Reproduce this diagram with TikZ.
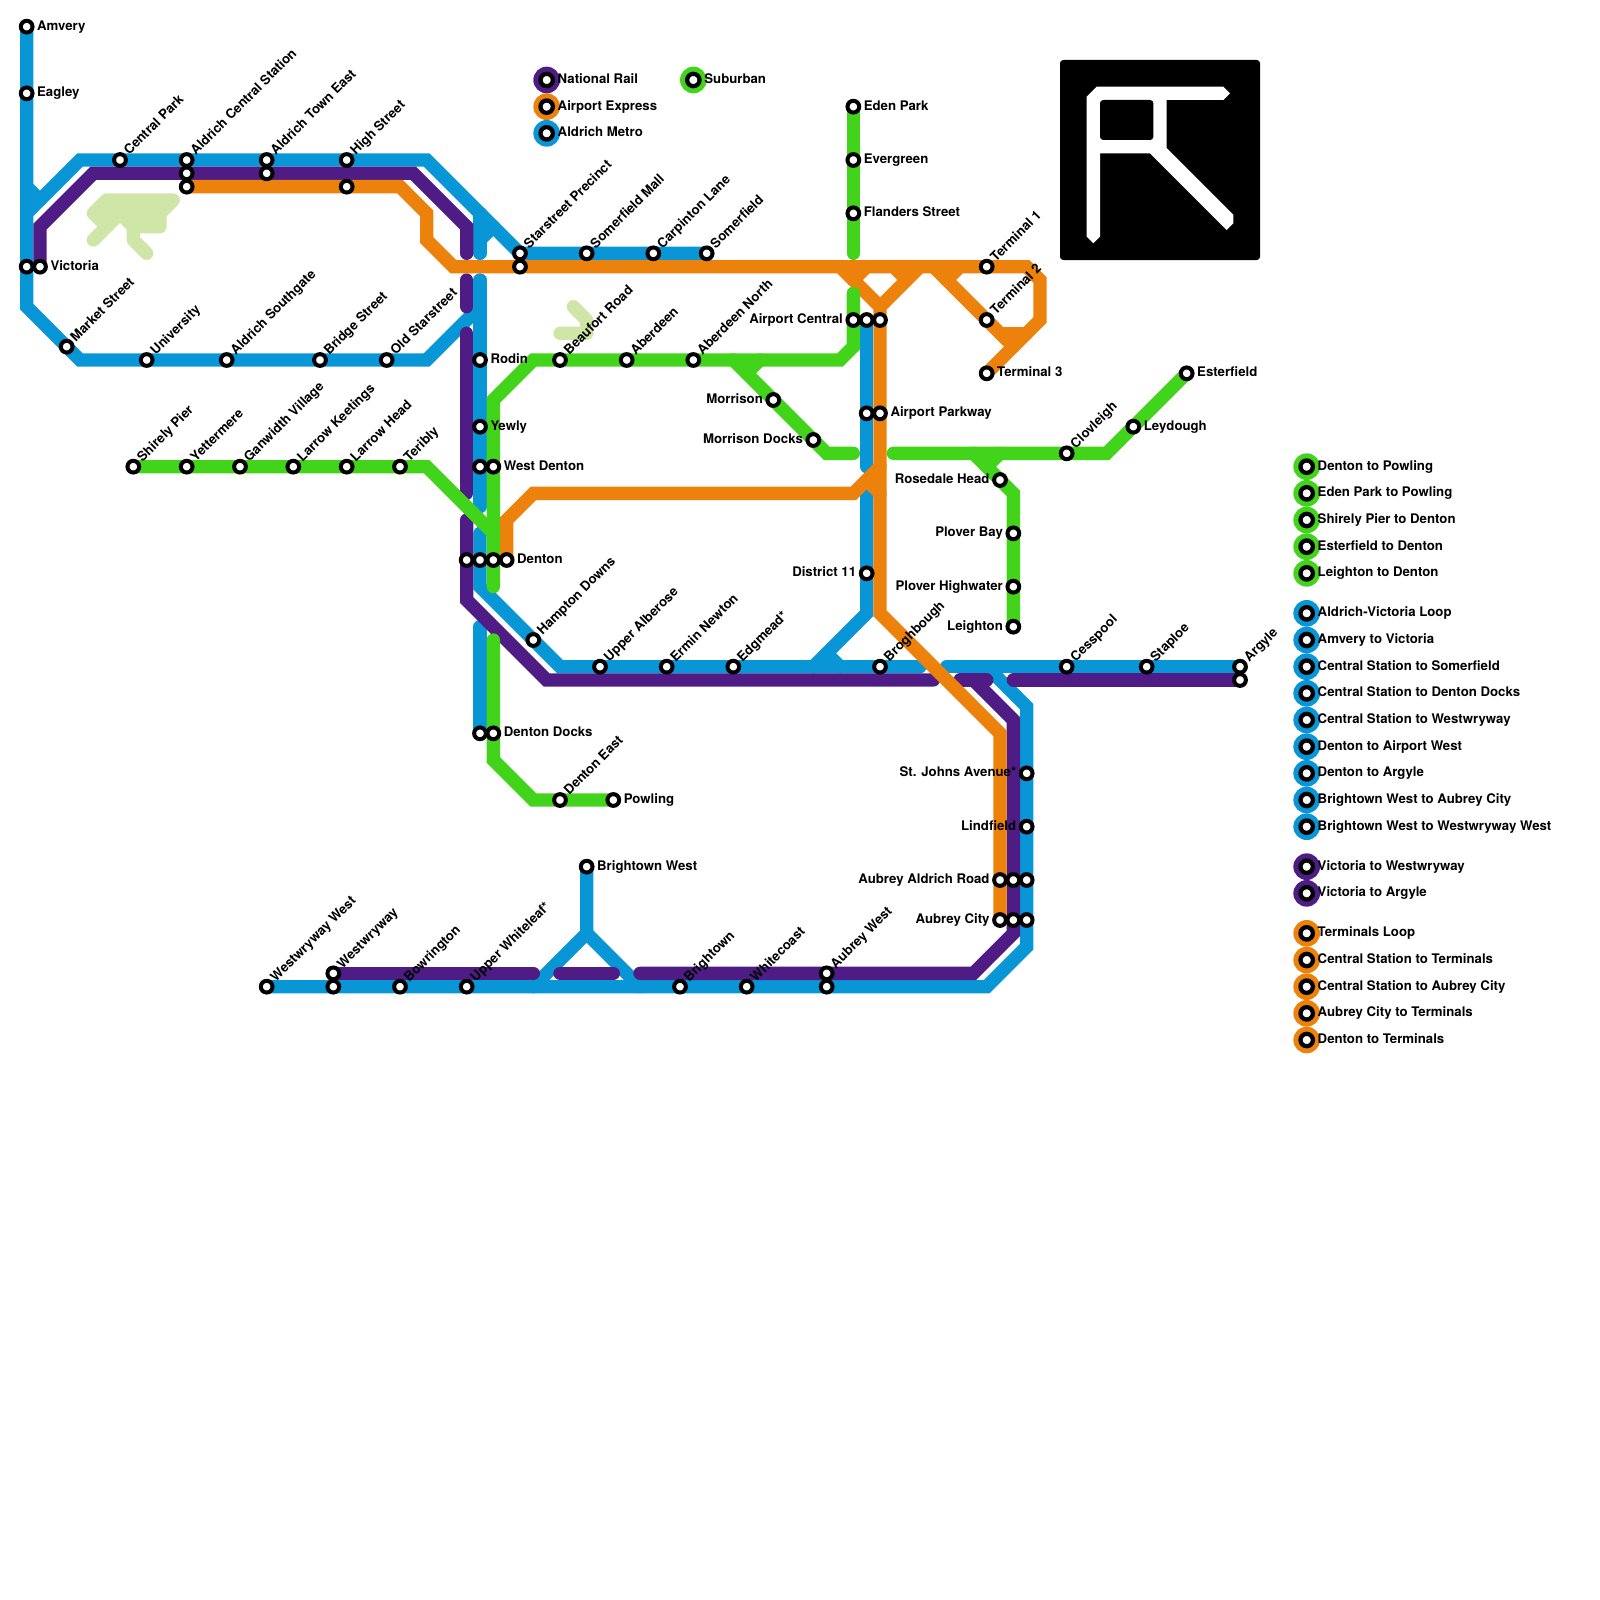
\documentclass[tikz,border=0pt]{standalone}
\usepackage{fontspec}
\setmainfont{TeX Gyre Heros}
\usepackage{xcolor}
\usetikzlibrary{backgrounds}

\definecolor{metroblue}{HTML}{0896D7}
\definecolor{railpurple}{HTML}{4F1B84}
\definecolor{airorange}{HTML}{EC820B}
\definecolor{subgreen}{HTML}{41D41A}
\definecolor{palegreen}{HTML}{D0E6A8}

\tikzset{
  stn/.style={circle, draw=black, fill=white, line width=0.075cm, inner sep=0pt, minimum size=0.22cm},
  bigstn/.style={circle, draw=black, fill=white, line width=0.08cm, inner sep=0pt, minimum size=0.2325cm},
  stntxt/.style={font=\fontsize{7.05}{9}\selectfont\bfseries, inner sep=0pt, text height=0.72em, text depth=0pt},
  txtr/.style={stntxt, anchor=west, xshift=0.19cm, yshift=0.058cm},
  txtl/.style={stntxt, anchor=east, xshift=-0.19cm, yshift=0.058cm},
  txtu/.style={stntxt, anchor=west, xshift=0.08cm, yshift=0.165cm, rotate=45},
  txtk/.style={stntxt, anchor=west, xshift=0.2cm, yshift=0.058cm},
  disc/.style={circle, inner sep=0pt, minimum size=0.5cm},
  bluel/.style={draw=metroblue, line width=0.25cm, line cap=round},
  purpl/.style={draw=railpurple, line width=0.25cm, line cap=round},
  orngl/.style={draw=airorange, line width=0.25cm, line cap=round},
  grnl/.style={draw=subgreen, line width=0.25cm, line cap=round},
  palel/.style={draw=palegreen, line width=0.25cm, line cap=round, line join=round}
}

\begin{document}
\begin{tikzpicture}[x=0.25cm, y=-0.25cm]
        \useasboundingbox (0,0) rectangle (120,120);

        % Stations, west side
        \node[stn] (amvery) at (2,2) {};
        \node[txtr] (amveryt) at (amvery) {Amvery};
        \node[stn] (eagley) at (2,7) {};
        \node[txtr] (eagleyt) at (eagley) {Eagley};
        \node[stn] (victoriab) at (2,20) {};
        \node[stn] (victoria) at (3,20) {};
        \node[txtr] (victoriat) at (victoria) {Victoria};
        \node[stn] (market) at (5,26) {};
        \node[txtu] (markett) at (market) {Market Street};
        \node[stn] (centralpark) at (9,12) {};
        \node[txtu] (centralparkt) at (centralpark) {Central Park};
        \node[stn] (aldcentral) at (14,12) {};
        \node[txtu] (aldcentralt) at (aldcentral) {Aldrich Central Station};
        \node[stn] (aldcentralp) at (14,13) {};
        \node[stn] (aldcentralo) at (14,14) {};
        \node[stn] (aldtown) at (20,12) {};
        \node[txtu] (aldtownt) at (aldtown) {Aldrich Town East};
        \node[stn] (aldtownp) at (20,13) {};
        \node[stn] (highst) at (26,12) {};
        \node[txtu] (highstt) at (highst) {High Street};
        \node[stn] (highsto) at (26,14) {};
        \node[stn] (university) at (11,27) {};
        \node[txtu] (universityt) at (university) {University};
        \node[stn] (southgate) at (17,27) {};
        \node[txtu] (southgatet) at (southgate) {Aldrich Southgate};
        \node[stn] (bridgest) at (24,27) {};
        \node[txtu] (bridgestt) at (bridgest) {Bridge Street};
        \node[stn] (oldstar) at (29,27) {};
        \node[txtu] (oldstart) at (oldstar) {Old Starstreet};
        \node[stn] (shirely) at (10,35) {};
        \node[txtu] (shirelyt) at (shirely) {Shirely Pier};
        \node[stn] (yettermere) at (14,35) {};
        \node[txtu] (yettermeret) at (yettermere) {Yettermere};
        \node[stn] (ganwidth) at (18,35) {};
        \node[txtu] (ganwidtht) at (ganwidth) {Ganwidth Village};
        \node[stn] (keetings) at (22,35) {};
        \node[txtu] (keetingst) at (keetings) {Larrow Keetings};
        \node[stn] (larrow) at (26,35) {};
        \node[txtu] (larrowt) at (larrow) {Larrow Head};
        \node[stn] (teribly) at (30,35) {};
        \node[txtu] (teriblyt) at (teribly) {Teribly};

        % Stations, centre
        \node[stn] (rodin) at (36,27) {};
        \node[txtr] (rodint) at (rodin) {Rodin};
        \node[stn] (yewly) at (36,32) {};
        \node[txtr] (yewlyt) at (yewly) {Yewly};
        \node[stn] (wdentonb) at (36,35) {};
        \node[stn] (wdenton) at (37,35) {};
        \node[txtr] (wdentont) at (wdenton) {West Denton};
        \node[stn] (dentonp) at (35,42) {};
        \node[stn] (dentonb) at (36,42) {};
        \node[stn] (dentong) at (37,42) {};
        \node[stn] (denton) at (38,42) {};
        \node[txtr] (dentont) at (denton) {Denton};
        \node[stn] (hampton) at (40,48) {};
        \node[txtu] (hamptont) at (hampton) {Hampton Downs};
        \node[stn] (docksb) at (36,55) {};
        \node[stn] (docks) at (37,55) {};
        \node[txtr] (dockst) at (docks) {Denton Docks};
        \node[stn] (dentoneast) at (42,60) {};
        \node[txtu] (dentoneastt) at (dentoneast) {Denton East};
        \node[stn] (powling) at (46,60) {};
        \node[txtr] (powlingt) at (powling) {Powling};
        \node[stn] (starstreet) at (39,19) {};
        \node[txtu] (starstreett) at (starstreet) {Starstreet Precinct};
        \node[stn] (starstreeto) at (39,20) {};
        \node[stn] (somermall) at (44,19) {};
        \node[txtu] (somermallt) at (somermall) {Somerfield Mall};
        \node[stn] (carpinton) at (49,19) {};
        \node[txtu] (carpintont) at (carpinton) {Carpinton Lane};
        \node[stn] (somerfield) at (53,19) {};
        \node[txtu] (somerfieldt) at (somerfield) {Somerfield};
        \node[stn] (beaufort) at (42,27) {};
        \node[txtu] (beaufortt) at (beaufort) {Beaufort Road};
        \node[stn] (aberdeen) at (47,27) {};
        \node[txtu] (aberdeent) at (aberdeen) {Aberdeen};
        \node[stn] (abernorth) at (52,27) {};
        \node[txtu] (abernortht) at (abernorth) {Aberdeen North};
        \node[stn] (morrison) at (58,30) {};
        \node[txtl] (morrisont) at (morrison) {Morrison};
        \node[stn] (mdocks) at (61,33) {};
        \node[txtl] (mdockst) at (mdocks) {Morrison Docks};
        \node[stn] (edenpark) at (64,8) {};
        \node[txtr] (edenparkt) at (edenpark) {Eden Park};
        \node[stn] (evergreen) at (64,12) {};
        \node[txtr] (evergreent) at (evergreen) {Evergreen};
        \node[stn] (flanders) at (64,16) {};
        \node[txtr] (flanderst) at (flanders) {Flanders Street};
        \node[stn] (aircentral) at (64,24) {};
        \node[txtl] (aircentralt) at (aircentral) {Airport Central};
        \node[stn] (aircentralb) at (65,24) {};
        \node[stn] (aircentralo) at (66,24) {};
        \node[stn] (parkwayb) at (65,31) {};
        \node[stn] (parkway) at (66,31) {};
        \node[txtr] (parkwayt) at (parkway) {Airport Parkway};
        \node[stn] (district) at (65,43) {};
        \node[txtl] (districtt) at (district) {District 11};

        % Stations, east side
        \node[stn] (terminala) at (74,20) {};
        \node[txtu] (terminalat) at (terminala) {Terminal 1};
        \node[stn] (terminalb) at (74,24) {};
        \node[txtu] (terminalbt) at (terminalb) {Terminal 2};
        \node[stn] (terminalc) at (74,28) {};
        \node[txtr] (terminalct) at (terminalc) {Terminal 3};
        \node[stn] (esterfield) at (89,28) {};
        \node[txtr] (esterfieldt) at (esterfield) {Esterfield};
        \node[stn] (leydough) at (85,32) {};
        \node[txtr] (leydought) at (leydough) {Leydough};
        \node[stn] (clovleigh) at (80,34) {};
        \node[txtu] (clovleight) at (clovleigh) {Clovleigh};
        \node[stn] (rosedale) at (75,36) {};
        \node[txtl] (rosedalet) at (rosedale) {Rosedale Head};
        \node[stn] (ploverbay) at (76,40) {};
        \node[txtl] (ploverbayt) at (ploverbay) {Plover Bay};
        \node[stn] (highwater) at (76,44) {};
        \node[txtl] (highwatert) at (highwater) {Plover Highwater};
        \node[stn] (leighton) at (76,47) {};
        \node[txtl] (leightont) at (leighton) {Leighton};
        \node[stn] (alberose) at (45,50) {};
        \node[txtu] (alberoset) at (alberose) {Upper Alberose};
        \node[stn] (ermin) at (50,50) {};
        \node[txtu] (ermint) at (ermin) {Ermin Newton};
        \node[stn] (edgmead) at (55,50) {};
        \node[txtu] (edgmeadt) at (edgmead) {Edgmead*};
        \node[stn] (broghbough) at (66,50) {};
        \node[txtu] (broghbought) at (broghbough) {Broghbough};
        \node[stn] (cesspool) at (80,50) {};
        \node[txtu] (cesspoolt) at (cesspool) {Cesspool};
        \node[stn] (staploe) at (86,50) {};
        \node[txtu] (staploet) at (staploe) {Staploe};
        \node[stn] (argyle) at (93,50) {};
        \node[txtu] (argylet) at (argyle) {Argyle};
        \node[stn] (argylep) at (93,51) {};
        \node[stn] (stjohns) at (77,58) {};
        \node[txtl] (stjohnst) at (stjohns) {St. Johns Avenue*};
        \node[stn] (lindfield) at (77,62) {};
        \node[txtl] (lindfieldt) at (lindfield) {Lindfield};
        \node[stn] (aldroad) at (75,66) {};
        \node[txtl] (aldroadt) at (aldroad) {Aubrey Aldrich Road};
        \node[stn] (aldroadp) at (76,66) {};
        \node[stn] (aldroadb) at (77,66) {};
        \node[stn] (aubrey) at (75,69) {};
        \node[txtl] (aubreyt) at (aubrey) {Aubrey City};
        \node[stn] (aubreyp) at (76,69) {};
        \node[stn] (aubreyb) at (77,69) {};

        % Stations, south side
        \node[stn] (brightwest) at (44,65) {};
        \node[txtr] (brightwestt) at (brightwest) {Brightown West};
        \node[stn] (westwest) at (20,74) {};
        \node[txtu] (westwestt) at (westwest) {Westwryway West};
        \node[stn] (westw) at (25,73) {};
        \node[txtu] (westwt) at (westw) {Westwryway};
        \node[stn] (westwb) at (25,74) {};
        \node[stn] (bowrington) at (30,74) {};
        \node[txtu] (bowringtont) at (bowrington) {Bowrington};
        \node[stn] (whiteleaf) at (35,74) {};
        \node[txtu] (whiteleaft) at (whiteleaf) {Upper Whiteleaf*};
        \node[stn] (brightown) at (51,74) {};
        \node[txtu] (brightownt) at (brightown) {Brightown};
        \node[stn] (whitecoast) at (56,74) {};
        \node[txtu] (whitecoastt) at (whitecoast) {Whitecoast};
        \node[stn] (aubwest) at (62,73) {};
        \node[txtu] (aubwestt) at (aubwest) {Aubrey West};
        \node[stn] (aubwestb) at (62,74) {};

        % Key, top
        \node[disc, fill=railpurple] (keyrail) at (41,6) {};
        \node[bigstn] (keyrails) at (keyrail) {};
        \node[txtk] (keyrailt) at (keyrail) {National Rail};
        \node[disc, fill=airorange] (keyair) at (41,8) {};
        \node[bigstn] (keyairs) at (keyair) {};
        \node[txtk] (keyairt) at (keyair) {Airport Express};
        \node[disc, fill=metroblue] (keymetro) at (41,10) {};
        \node[bigstn] (keymetros) at (keymetro) {};
        \node[txtk] (keymetrot) at (keymetro) {Aldrich Metro};
        \node[disc, fill=subgreen] (keysub) at (52,6) {};
        \node[bigstn] (keysubs) at (keysub) {};
        \node[txtk] (keysubt) at (keysub) {Suburban};

        % Key, right hand column
        \node[disc, fill=subgreen] (kga) at (98,35) {}; \node[bigstn] (kgas) at (kga) {}; \node[txtk] (kgat) at (kga) {Denton to Powling};
        \node[disc, fill=subgreen] (kgb) at (98,37) {}; \node[bigstn] (kgbs) at (kgb) {}; \node[txtk] (kgbt) at (kgb) {Eden Park to Powling};
        \node[disc, fill=subgreen] (kgc) at (98,39) {}; \node[bigstn] (kgcs) at (kgc) {}; \node[txtk] (kgct) at (kgc) {Shirely Pier to Denton};
        \node[disc, fill=subgreen] (kgd) at (98,41) {}; \node[bigstn] (kgds) at (kgd) {}; \node[txtk] (kgdt) at (kgd) {Esterfield to Denton};
        \node[disc, fill=subgreen] (kge) at (98,43) {}; \node[bigstn] (kges) at (kge) {}; \node[txtk] (kget) at (kge) {Leighton to Denton};
        \node[disc, fill=metroblue] (kba) at (98,46) {}; \node[bigstn] (kbas) at (kba) {}; \node[txtk] (kbat) at (kba) {Aldrich-Victoria Loop};
        \node[disc, fill=metroblue] (kbb) at (98,48) {}; \node[bigstn] (kbbs) at (kbb) {}; \node[txtk] (kbbt) at (kbb) {Amvery to Victoria};
        \node[disc, fill=metroblue] (kbc) at (98,50) {}; \node[bigstn] (kbcs) at (kbc) {}; \node[txtk] (kbct) at (kbc) {Central Station to Somerfield};
        \node[disc, fill=metroblue] (kbd) at (98,52) {}; \node[bigstn] (kbds) at (kbd) {}; \node[txtk] (kbdt) at (kbd) {Central Station to Denton Docks};
        \node[disc, fill=metroblue] (kbe) at (98,54) {}; \node[bigstn] (kbes) at (kbe) {}; \node[txtk] (kbet) at (kbe) {Central Station to Westwryway};
        \node[disc, fill=metroblue] (kbf) at (98,56) {}; \node[bigstn] (kbfs) at (kbf) {}; \node[txtk] (kbft) at (kbf) {Denton to Airport West};
        \node[disc, fill=metroblue] (kbg) at (98,58) {}; \node[bigstn] (kbgs) at (kbg) {}; \node[txtk] (kbgt) at (kbg) {Denton to Argyle};
        \node[disc, fill=metroblue] (kbh) at (98,60) {}; \node[bigstn] (kbhs) at (kbh) {}; \node[txtk] (kbht) at (kbh) {Brightown West to Aubrey City};
        \node[disc, fill=metroblue] (kbi) at (98,62) {}; \node[bigstn] (kbis) at (kbi) {}; \node[txtk] (kbit) at (kbi) {Brightown West to Westwryway West};
        \node[disc, fill=railpurple] (kpa) at (98,65) {}; \node[bigstn] (kpas) at (kpa) {}; \node[txtk] (kpat) at (kpa) {Victoria to Westwryway};
        \node[disc, fill=railpurple] (kpb) at (98,67) {}; \node[bigstn] (kpbs) at (kpb) {}; \node[txtk] (kpbt) at (kpb) {Victoria to Argyle};
        \node[disc, fill=airorange] (koa) at (98,70) {}; \node[bigstn] (koas) at (koa) {}; \node[txtk] (koat) at (koa) {Terminals Loop};
        \node[disc, fill=airorange] (kob) at (98,72) {}; \node[bigstn] (kobs) at (kob) {}; \node[txtk] (kobt) at (kob) {Central Station to Terminals};
        \node[disc, fill=airorange] (koc) at (98,74) {}; \node[bigstn] (kocs) at (koc) {}; \node[txtk] (koct) at (koc) {Central Station to Aubrey City};
        \node[disc, fill=airorange] (kod) at (98,76) {}; \node[bigstn] (kods) at (kod) {}; \node[txtk] (kodt) at (kod) {Aubrey City to Terminals};
        \node[disc, fill=airorange] (koe) at (98,78) {}; \node[bigstn] (koes) at (koe) {}; \node[txtk] (koet) at (koe) {Denton to Terminals};

        % Logo
        \fill[black, rounded corners=0.06cm] (79.5,4.5) rectangle (94.5,19.5);
        \fill[white] (81.5,7.25) -- (82.25,6.5) -- (91.75,6.5) -- (92.25,7) -- (91.75,7.5) -- (87.5,7.5) -- (87.5,11.1) -- (92.5,16.1) -- (92.5,16.75) -- (92,17.25) -- (86.25,11.5) -- (82.5,11.5) -- (82.5,17.75) -- (82,18.25) -- (81.5,17.75) -- cycle;
        \fill[black, rounded corners=0.06cm] (82.5,7.5) rectangle (86.5,10.5);

        % Free line ends
        \coordinate (bfork) at (2,16);
        \coordinate (bnotch) at (2,14);
        \coordinate (bnotchb) at (3,15);
        \coordinate (bstub) at (36,16);
        \coordinate (bstubb) at (36,19);
        \coordinate (bstubc) at (36,18);
        \coordinate (bstubd) at (37,17);
        \coordinate (bup) at (36,21);
        \coordinate (bupb) at (36,38);
        \coordinate (bdown) at (36,40);
        \coordinate (bwest) at (69,50);
        \coordinate (blow) at (36,47);
        \coordinate (beast) at (71,50);
        \coordinate (bturn) at (74,50);
        \coordinate (bforkc) at (44,70);
        \coordinate (bforkl) at (40,74);
        \coordinate (bforkr) at (48,74);
        \coordinate (bair) at (65,35);
        \coordinate (bairb) at (65,37);
        \coordinate (bairc) at (61,50);
        \coordinate (baird) at (62,49);
        \coordinate (baire) at (63,50);
        \coordinate (pa) at (35,19);
        \coordinate (pb) at (35,21);
        \coordinate (pc) at (35,23);
        \coordinate (pd) at (35,25);
        \coordinate (pe) at (35,37);
        \coordinate (pf) at (35,39);
        \coordinate (pg) at (70,51);
        \coordinate (ph) at (72,51);
        \coordinate (pi) at (74,51);
        \coordinate (pj) at (73,51);
        \coordinate (pk) at (48,73);
        \coordinate (pl) at (46,73);
        \coordinate (pm) at (42,73);
        \coordinate (pn) at (40,73);
        \coordinate (po) at (76,51);
        \coordinate (ova) at (63,20);
        \coordinate (ovb) at (66,23);
        \coordinate (ovc) at (69,20);
        \coordinate (ota) at (70,20);
        \coordinate (otb) at (76,26);
        \coordinate (otc) at (75,25);
        \coordinate (otd) at (77,25);
        \coordinate (osa) at (65,20);
        \coordinate (osb) at (64,21);
        \coordinate (osc) at (67,20);
        \coordinate (osd) at (68,21);
        \coordinate (ose) at (72,20);
        \coordinate (osf) at (71,21);
        \coordinate (oda) at (66,35);
        \coordinate (odb) at (65,36);
        \coordinate (odc) at (66,37);
        \coordinate (gtop) at (37,40);
        \coordinate (gbot) at (37,44);
        \coordinate (gair) at (64,22);
        \coordinate (gfla) at (64,19);
        \coordinate (gmor) at (55,27);
        \coordinate (gmorb) at (64,34);
        \coordinate (gmorc) at (56,28);
        \coordinate (gmord) at (57,27);
        \coordinate (geast) at (67,34);
        \coordinate (grose) at (73,34);
        \coordinate (grosb) at (74,35);
        \coordinate (grosc) at (75,34);
        \coordinate (glow) at (37,48);

        \begin{scope}[on background layer]
        % Pale shapes
        \fill[palegreen] (8,15) -- (13,15) -- (12,16) -- (12,17) -- (10,17) -- (9,16) -- (8,17) -- (7,16) -- cycle;
        \draw[palel] (8,17) -- (7,16) -- (8,15) -- (13,15) -- (12,16) -- (12,17) -- (10,17);
        \draw[palel] (7,18) -- (9,16) -- (10,17) -- (10,18) -- (11,19);
        \draw[palel] (43,23) -- (44,24) -- (44,25) -- (42,25);

        % Aldrich Metro
        \draw[bluel] (amvery.center) -- (2,23) -- (market.center) -- (6,27) -- (32,27) -- (36,23);
        \draw[bluel] (bfork) -- (6,12) -- (32,12) -- (starstreet.center) -- (somerfield.center);
        \draw[bluel] (bnotch) -- (bnotchb);
        \draw[bluel] (bstub) -- (bstubb);
        \draw[bluel] (bstubc) -- (bstubd);
        \draw[bluel] (bup) -- (bupb);
        \draw[bluel] (bdown) -- (36,44) -- (42,50) -- (bwest);
        \draw[bluel] (blow) -- (docksb.center);
        \draw[bluel] (beast) -- (argyle.center);
        \draw[bluel] (bturn) -- (77,53) -- (77,71) -- (74,74) -- (westwest.center);
        \draw[bluel] (brightwest.center) -- (bforkc) -- (bforkl);
        \draw[bluel] (bforkc) -- (bforkr);
        \draw[bluel] (aircentralb.center) -- (bair);
        \draw[bluel] (bairb) -- (65,46) -- (bairc);
        \draw[bluel] (baird) -- (baire);

        % National Rail
        \draw[purpl] (victoria.center) -- (3,17) -- (7,13) -- (31,13) -- (35,17) -- (pa);
        \draw[purpl] (pb) -- (pc);
        \draw[purpl] (pd) -- (pe);
        \draw[purpl] (pf) -- (35,45) -- (41,51) -- (pg);
        \draw[purpl] (ph) -- (pi);
        \draw[purpl] (pj) -- (76,54) -- (76,70) -- (73,73) -- (pk);
        \draw[purpl] (pl) -- (pm);
        \draw[purpl] (pn) -- (westw.center);
        \draw[purpl] (po) -- (argylep.center);

        % Airport Express
        \draw[orngl] (aldcentralo.center) -- (30,14) -- (32,16) -- (32,18) -- (34,20) -- (77,20) -- (78,21) -- (78,24) -- (terminalc.center);
        \draw[orngl] (ova) -- (ovb) -- (66,46) -- (75,55) -- (aubrey.center);
        \draw[orngl] (ovc) -- (ovb);
        \draw[orngl] (ota) -- (otb);
        \draw[orngl] (otc) -- (otd);
        \draw[orngl] (osa) -- (osb);
        \draw[orngl] (osc) -- (osd);
        \draw[orngl] (ose) -- (osf);
        \draw[orngl] (denton.center) -- (38,39) -- (40,37) -- (64,37) -- (oda);
        \draw[orngl] (odb) -- (odc);

        % Suburban
        \draw[grnl] (shirely.center) -- (32,35) -- (gtop);
        \draw[grnl] (gbot) -- (37,30) -- (40,27) -- (63,27) -- (64,26) -- (gair);
        \draw[grnl] (edenpark.center) -- (gfla);
        \draw[grnl] (gmor) -- (62,34) -- (gmorb);
        \draw[grnl] (gmorc) -- (gmord);
        \draw[grnl] (geast) -- (83,34) -- (esterfield.center);
        \draw[grnl] (grose) -- (76,37) -- (leighton.center);
        \draw[grnl] (grosb) -- (grosc);
        \draw[grnl] (glow) -- (37,57) -- (40,60) -- (powling.center);
        \end{scope}
    \end{tikzpicture}
\end{document}
